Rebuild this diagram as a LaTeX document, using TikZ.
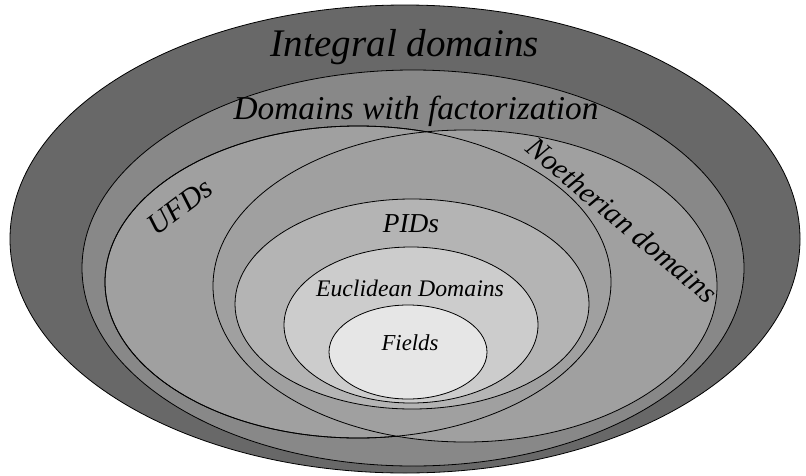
\documentclass[tikz,border=0pt]{standalone}
\usepackage{fontspec}
\setmainfont{Liberation Serif}
\definecolor{cOuter}{RGB}{104,104,104}
\definecolor{cFact}{RGB}{136,136,136}
\definecolor{cUFD}{RGB}{160,160,160}
\definecolor{cPID}{RGB}{180,180,180}
\definecolor{cEuc}{RGB}{204,204,204}
\definecolor{cField}{RGB}{230,230,230}
\tikzset{
  region/.style={draw=black, line width=0.6pt},
  lbl/.style={inner sep=0pt, font=\itshape},
}
\newcommand{\fsz}[1]{\fontsize{#1}{#1}\selectfont\itshape}
\begin{document}
\begin{tikzpicture}[x=0.75pt, y=-0.75pt]
\useasboundingbox (0,0) rectangle (806,475);
% Integral domains
\draw[region, fill=cOuter] (405,239) ellipse [x radius=296.25pt, y radius=175.5pt];
% Domains with factorization
\draw[region, fill=cFact] (413,268) ellipse [x radius=248.25pt, y radius=148.5pt];
% UFDs and Noetherian domains
\draw[region, fill=cUFD] (358,282) ellipse [x radius=189.75pt, y radius=117pt];
\draw[region, fill=cUFD] (465,286) ellipse [x radius=189pt, y radius=117pt];
\draw[region] (358,282) ellipse [x radius=189.75pt, y radius=117pt];
% PIDs
\draw[region, fill=cPID] (412,304) ellipse [x radius=132.75pt, y radius=78.75pt];
% Euclidean
\draw[region, fill=cEuc] (411,325) ellipse [x radius=95.25pt, y radius=58.5pt];
% Fields
\draw[region, fill=cField] (408,352) ellipse [x radius=59.25pt, y radius=35.25pt];
% labels
\node[lbl, anchor=base, font=\fsz{29.3}] (tIntegral) at (405,56) {Integral domains};
\node[lbl, anchor=base, font=\fsz{25}] (tFact) at (416,119) {Domains with factorization};
\node[lbl, rotate=37, font=\fsz{22.5}] (tUFD) at (180,207) {UFDs};
\node[lbl, rotate=-40, font=\fsz{22}] (tNoeth) at (622,220) {Noetherian domains};
\node[lbl, anchor=base, font=\fsz{20.5}] (tPID) at (411,232) {PIDs};
\node[lbl, anchor=base, font=\fsz{17.8}] (tEuc) at (410,296) {Euclidean Domains};
\node[lbl, anchor=base, font=\fsz{17.1}] (tField) at (410,350) {Fields};
\end{tikzpicture}
\end{document}
